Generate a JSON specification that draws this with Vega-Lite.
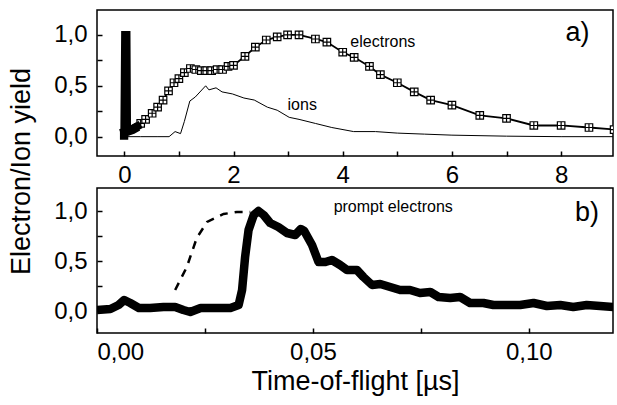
{
  "$schema": "https://vega.github.io/schema/vega-lite/v6.json",
  "background": "white",
  "padding": {"left": 6, "top": 9, "right": 0, "bottom": 5},
  "spacing": 32,
  "bounds": "flush",
  "datasets": {
    "ions": [
      {"t": -0.05, "v": 0.0}, {"t": 0.3, "v": 0.0}, {"t": 0.6, "v": 0.0}, {"t": 0.82, "v": 0.0},
      {"t": 0.93, "v": 0.05}, {"t": 1.03, "v": 0.03}, {"t": 1.1, "v": 0.15}, {"t": 1.2, "v": 0.35},
      {"t": 1.3, "v": 0.39}, {"t": 1.49, "v": 0.5}, {"t": 1.55, "v": 0.46}, {"t": 1.68, "v": 0.48},
      {"t": 1.79, "v": 0.44}, {"t": 1.98, "v": 0.42}, {"t": 2.19, "v": 0.38}, {"t": 2.38, "v": 0.36},
      {"t": 2.62, "v": 0.29}, {"t": 2.8, "v": 0.26}, {"t": 3.02, "v": 0.19}, {"t": 3.2, "v": 0.17},
      {"t": 3.5, "v": 0.13}, {"t": 3.8, "v": 0.09}, {"t": 4.2, "v": 0.05}, {"t": 4.6, "v": 0.05},
      {"t": 5.0, "v": 0.035}, {"t": 5.5, "v": 0.025}, {"t": 6.0, "v": 0.015}, {"t": 7.0, "v": 0.005},
      {"t": 8.0, "v": 0.0}, {"t": 9.0, "v": 0.0}
    ],
    "spike": [
      {"t": -0.08, "v": 0.01}, {"t": 0.0, "v": 0.01}, {"t": 0.015, "v": 1.0}, {"t": 0.04, "v": 1.0},
      {"t": 0.05, "v": 0.08}, {"t": 0.1, "v": 0.06}, {"t": 0.2, "v": 0.09}, {"t": 0.3, "v": 0.12}
    ],
    "blob": [
      {"t": -0.07, "v": 0.03}, {"t": 0.05, "v": 0.05}, {"t": 0.15, "v": 0.07}, {"t": 0.25, "v": 0.1}
    ],
    "electrons": [
      {"t": 0.3, "v": 0.13}, {"t": 0.39, "v": 0.17}, {"t": 0.51, "v": 0.23}, {"t": 0.61, "v": 0.29},
      {"t": 0.71, "v": 0.36}, {"t": 0.81, "v": 0.45}, {"t": 0.91, "v": 0.53}, {"t": 1.0, "v": 0.57},
      {"t": 1.1, "v": 0.63}, {"t": 1.21, "v": 0.67}, {"t": 1.31, "v": 0.66}, {"t": 1.41, "v": 0.65},
      {"t": 1.51, "v": 0.65}, {"t": 1.6, "v": 0.65}, {"t": 1.7, "v": 0.66}, {"t": 1.8, "v": 0.66},
      {"t": 1.9, "v": 0.69}, {"t": 2.0, "v": 0.7}, {"t": 2.21, "v": 0.79}, {"t": 2.4, "v": 0.88},
      {"t": 2.6, "v": 0.95}, {"t": 2.8, "v": 0.98}, {"t": 2.99, "v": 1.0}, {"t": 3.2, "v": 1.0},
      {"t": 3.5, "v": 0.96}, {"t": 3.71, "v": 0.93}, {"t": 4.0, "v": 0.83}, {"t": 4.21, "v": 0.78},
      {"t": 4.49, "v": 0.69}, {"t": 4.69, "v": 0.61}, {"t": 5.0, "v": 0.53}, {"t": 5.31, "v": 0.44},
      {"t": 5.61, "v": 0.36}, {"t": 6.0, "v": 0.31}, {"t": 6.51, "v": 0.21}, {"t": 7.0, "v": 0.18},
      {"t": 7.5, "v": 0.11}, {"t": 8.0, "v": 0.11}, {"t": 8.51, "v": 0.09}, {"t": 8.97, "v": 0.07}
    ],
    "labelsA": [
      {"t": 4.14, "v": 0.93, "label": "electrons"},
      {"t": 2.99, "v": 0.31, "label": "ions"}
    ],
    "tagA": [{"t": 8.08, "v": 1.02, "label": "a)"}],
    "prompt": [
      {"t": 0.0, "v": 0.01}, {"t": 0.0031, "v": 0.02}, {"t": 0.005, "v": 0.06}, {"t": 0.0063, "v": 0.11},
      {"t": 0.0077, "v": 0.08}, {"t": 0.0097, "v": 0.03}, {"t": 0.0123, "v": 0.03}, {"t": 0.0154, "v": 0.04},
      {"t": 0.0181, "v": 0.04}, {"t": 0.02, "v": 0.01}, {"t": 0.0216, "v": -0.01}, {"t": 0.024, "v": 0.03},
      {"t": 0.027, "v": 0.03}, {"t": 0.0309, "v": 0.03}, {"t": 0.0328, "v": 0.06}, {"t": 0.0336, "v": 0.21},
      {"t": 0.0343, "v": 0.54}, {"t": 0.0351, "v": 0.81}, {"t": 0.0363, "v": 0.96}, {"t": 0.0374, "v": 1.0},
      {"t": 0.0386, "v": 0.96}, {"t": 0.0401, "v": 0.88}, {"t": 0.042, "v": 0.84}, {"t": 0.044, "v": 0.78},
      {"t": 0.0459, "v": 0.76}, {"t": 0.0472, "v": 0.82}, {"t": 0.048, "v": 0.8}, {"t": 0.0498, "v": 0.66},
      {"t": 0.0513, "v": 0.49}, {"t": 0.0529, "v": 0.49}, {"t": 0.0544, "v": 0.51}, {"t": 0.0563, "v": 0.46},
      {"t": 0.0579, "v": 0.41}, {"t": 0.0602, "v": 0.41}, {"t": 0.0617, "v": 0.34}, {"t": 0.0637, "v": 0.26},
      {"t": 0.0656, "v": 0.27}, {"t": 0.0679, "v": 0.24}, {"t": 0.0702, "v": 0.21}, {"t": 0.0725, "v": 0.21},
      {"t": 0.0748, "v": 0.18}, {"t": 0.0772, "v": 0.19}, {"t": 0.0791, "v": 0.14}, {"t": 0.0818, "v": 0.13},
      {"t": 0.0841, "v": 0.14}, {"t": 0.0864, "v": 0.08}, {"t": 0.0895, "v": 0.08}, {"t": 0.0918, "v": 0.06},
      {"t": 0.0949, "v": 0.06}, {"t": 0.098, "v": 0.06}, {"t": 0.1011, "v": 0.08}, {"t": 0.1042, "v": 0.05},
      {"t": 0.1073, "v": 0.06}, {"t": 0.1103, "v": 0.04}, {"t": 0.1134, "v": 0.06}, {"t": 0.1165, "v": 0.05},
      {"t": 0.1196, "v": 0.04}
    ],
    "dashed": [
      {"t": 0.0181, "v": 0.21}, {"t": 0.0208, "v": 0.44}, {"t": 0.0231, "v": 0.73}, {"t": 0.0255, "v": 0.89},
      {"t": 0.0293, "v": 0.97}, {"t": 0.0324, "v": 0.99}, {"t": 0.0355, "v": 0.99}
    ],
    "labelsB": [{"t": 0.0548, "v": 1.04, "label": "prompt electrons"}],
    "tagB": [{"t": 0.1107, "v": 0.98, "label": "b)"}]
  },
  "vconcat": [
    {
      "width": 516,
      "height": 146,
      "encoding": {
        "x": {"field": "t", "type": "quantitative",
              "scale": {"domain": [-0.5, 8.95], "nice": false, "zero": false},
              "axis": {"values": [0, 1, 2, 3, 4, 5, 6, 7, 8],
                       "labelExpr": "datum.value % 2 == 0 ? datum.label : ''",
                       "tickSize": -5, "zindex": 1,
                       "labelPadding": 12, "title": null}},
        "y": {"field": "v", "type": "quantitative",
              "scale": {"domain": [-0.19, 1.245], "nice": false, "zero": false},
              "axis": {"values": [0, 0.25, 0.5, 0.75, 1],
                       "labelExpr": "(datum.value * 4) % 2 == 1 ? '' : replace(format(datum.value, '.1f'), '.', ',')",
                       "tickSize": -5, "zindex": 1,
                       "labelPadding": 15,
                       "title": "Electron/Ion yield",
                       "titleX": -68, "titleY": 161, "titleAngle": 270,
                       "titleAlign": "center", "titleBaseline": "alphabetic"}}
      },
      "layer": [
        {"data": {"name": "ions"}, "mark": {"type": "line", "color": "black", "strokeWidth": 1, "clip": true}},
        {"data": {"name": "electrons"}, "mark": {"type": "line", "color": "black", "strokeWidth": 1.8, "clip": true}},
        {"data": {"name": "electrons"},
         "mark": {"type": "point", "shape": "M-1,-1H1V1H-1Z M0,-1V1 M-1,0H1", "size": 56, "filled": false,
                  "fill": "white", "fillOpacity": 1, "stroke": "black", "strokeWidth": 1.2, "opacity": 1, "clip": true}},
        {"data": {"name": "spike"}, "mark": {"type": "line", "color": "black", "strokeWidth": 8, "strokeJoin": "miter", "clip": true}},
        {"data": {"name": "blob"}, "mark": {"type": "line", "color": "black", "strokeWidth": 9, "clip": true}},
        {"data": {"name": "labelsA"},
         "mark": {"type": "text", "align": "left", "baseline": "middle", "fontSize": 16, "font": "Liberation Sans", "color": "black"},
         "encoding": {"text": {"field": "label"}}},
        {"data": {"name": "tagA"},
         "mark": {"type": "text", "align": "left", "baseline": "middle", "fontSize": 27, "font": "Liberation Sans", "color": "black"},
         "encoding": {"text": {"field": "label"}}}
      ]
    },
    {
      "width": 516,
      "height": 145,
      "encoding": {
        "x": {"field": "t", "type": "quantitative",
              "scale": {"domain": [0, 0.1195], "nice": false, "zero": false},
              "axis": {"values": [0, 0.025, 0.05, 0.075, 0.1],
                       "labelExpr": "round(datum.value * 1000) % 50 != 0 ? '' : replace(format(datum.value, '.2f'), '.', ',')",
                       "tickSize": -5, "zindex": 1,
                       "labelPadding": 12, "title": "Time-of-flight [µs]", "titlePadding": 4}},
        "y": {"field": "v", "type": "quantitative",
              "scale": {"domain": [-0.22, 1.23], "nice": false, "zero": false},
              "axis": {"values": [0, 0.25, 0.5, 0.75, 1],
                       "labelExpr": "(datum.value * 4) % 2 == 1 ? '' : replace(format(datum.value, '.1f'), '.', ',')",
                       "tickSize": -5, "zindex": 1,
                       "labelPadding": 15, "title": null}}
      },
      "layer": [
        {"data": {"name": "dashed"}, "mark": {"type": "line", "color": "black", "strokeWidth": 2.5, "strokeDash": [8, 7], "clip": true}},
        {"data": {"name": "prompt"}, "mark": {"type": "line", "color": "black", "strokeWidth": 8.5, "strokeJoin": "round", "clip": true}},
        {"data": {"name": "labelsB"},
         "mark": {"type": "text", "align": "left", "baseline": "middle", "fontSize": 16, "font": "Liberation Sans", "color": "black"},
         "encoding": {"text": {"field": "label"}}},
        {"data": {"name": "tagB"},
         "mark": {"type": "text", "align": "left", "baseline": "middle", "fontSize": 27, "font": "Liberation Sans", "color": "black"},
         "encoding": {"text": {"field": "label"}}}
      ]
    }
  ],
  "config": {
    "font": "Liberation Sans",
    "view": {"stroke": "black", "strokeWidth": 1.5},
    "axis": {"domain": false, "grid": false, "labelFont": "Liberation Sans", "labelFontSize": 24,
             "labelColor": "black", "tickColor": "black", "tickWidth": 1.5,
             "titleFont": "Liberation Sans", "titleFontSize": 27, "titleFontWeight": "normal", "titleColor": "black"}
  }
}
